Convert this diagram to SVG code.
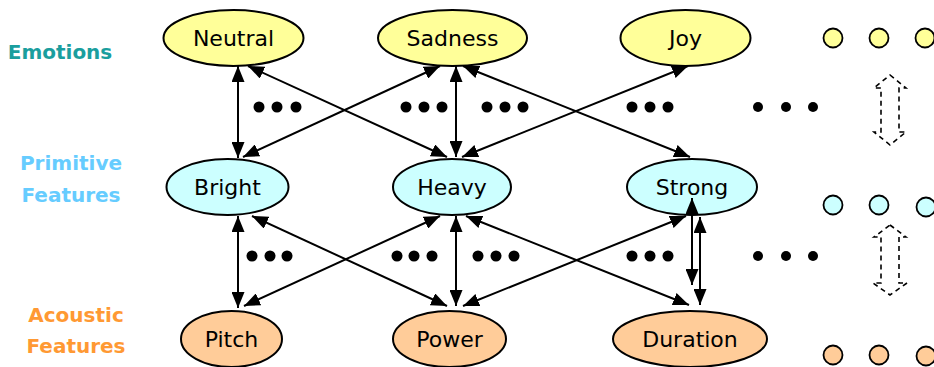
<svg xmlns="http://www.w3.org/2000/svg" width="934" height="367" viewBox="0 0 934 367">
<style>
.node ellipse{stroke:#000;stroke-width:2}
.emo ellipse,.emo circle{fill:#ffff99}
.prim ellipse,.prim circle{fill:#ccffff}
.ac ellipse,.ac circle{fill:#ffcc99}
circle{stroke:#000;stroke-width:1.8}
.lbl{font-family:"DejaVu Sans","Liberation Sans",sans-serif;font-size:22px;fill:#000;text-anchor:middle}
.side{font-family:"DejaVu Sans","Liberation Sans",sans-serif;font-size:20px;font-weight:bold;text-anchor:middle}
#connectors line{stroke:#000;stroke-width:2;marker-start:url(#ah);marker-end:url(#ah)}
.dots circle{fill:#000;stroke:none}
.blk{fill:none;stroke:#000;stroke-width:1.6;stroke-dasharray:5,4}
</style>
<defs>
<marker id="ah" viewBox="0 0 16 13" refX="16" refY="6.5" markerWidth="16" markerHeight="13" markerUnits="userSpaceOnUse" orient="auto-start-reverse">
<path d="M0,0 L16,6.5 L0,13 Z" fill="#000"/>
</marker>
</defs>
<text class="side" x="60" y="59" style="fill:#1a9e9e">Emotions</text>
<text class="side" x="71" y="170" style="fill:#66ccff">Primitive</text>
<text class="side" x="71" y="202" style="fill:#66ccff">Features</text>
<text class="side" x="76" y="322" style="fill:#ff9933">Acoustic</text>
<text class="side" x="76" y="353" style="fill:#ff9933">Features</text>

<g id="neutral" class="node emo"><ellipse cx="233.5" cy="38" rx="70" ry="28"/><text class="lbl" x="233.5" y="46">Neutral</text></g>
<g id="sadness" class="node emo"><ellipse cx="452.5" cy="38" rx="74.5" ry="28"/><text class="lbl" x="452.5" y="46">Sadness</text></g>
<g id="joy" class="node emo"><ellipse cx="685.5" cy="38" rx="65" ry="28"/><text class="lbl" x="685.5" y="46">Joy</text></g>
<g id="emo-more" class="emo"><circle cx="833" cy="38" r="9.5"/><circle cx="879" cy="38" r="9.5"/><circle cx="925" cy="38" r="9.5"/></g>

<g id="bright" class="node prim"><ellipse cx="227.5" cy="187" rx="61" ry="28"/><text class="lbl" x="227.5" y="195">Bright</text></g>
<g id="heavy" class="node prim"><ellipse cx="452" cy="187" rx="59" ry="28"/><text class="lbl" x="452" y="195">Heavy</text></g>
<g id="strong" class="node prim"><ellipse cx="692" cy="187" rx="65" ry="28"/><text class="lbl" x="692" y="195">Strong</text></g>
<g id="prim-more" class="prim"><circle cx="833" cy="205" r="9.5"/><circle cx="879" cy="205" r="9.5"/><circle cx="926" cy="207" r="9.5"/></g>

<g id="pitch" class="node ac"><ellipse cx="231.5" cy="339" rx="50.5" ry="28"/><text class="lbl" x="231.5" y="347">Pitch</text></g>
<g id="power" class="node ac"><ellipse cx="449.5" cy="339" rx="56.5" ry="28"/><text class="lbl" x="449.5" y="347">Power</text></g>
<g id="duration" class="node ac"><ellipse cx="690" cy="339" rx="77" ry="28"/><text class="lbl" x="690" y="347">Duration</text></g>
<g id="ac-more" class="ac"><circle cx="833" cy="355" r="9.5"/><circle cx="879" cy="355" r="9.5"/><circle cx="926" cy="356" r="9.5"/></g>

<g id="connectors">
<line x1="238" y1="66" x2="238" y2="158"/>
<line x1="248" y1="66" x2="447" y2="157"/>
<line x1="440" y1="66" x2="243" y2="157"/>
<line x1="456" y1="66" x2="456" y2="157"/>
<line x1="463" y1="66" x2="690" y2="157"/>
<line x1="688" y1="66" x2="462" y2="157"/>
<line x1="238" y1="216" x2="238" y2="308"/>
<line x1="252" y1="216" x2="447" y2="306"/>
<line x1="440" y1="216" x2="244" y2="306"/>
<line x1="456" y1="216" x2="456" y2="306"/>
<line x1="466" y1="216" x2="689" y2="305"/>
<line x1="686" y1="216" x2="463" y2="306"/>
<line x1="692" y1="198" x2="692" y2="285"/>
<line x1="700" y1="217" x2="700" y2="305"/>
</g>

<g class="dots">
<circle cx="259" cy="107" r="5.5"/><circle cx="277" cy="107" r="5.5"/><circle cx="296" cy="107" r="5.5"/>
<circle cx="406" cy="107" r="5.5"/><circle cx="424" cy="107" r="5.5"/><circle cx="442" cy="107" r="5.5"/>
<circle cx="487" cy="107" r="5.5"/><circle cx="505" cy="107" r="5.5"/><circle cx="523" cy="107" r="5.5"/>
<circle cx="632" cy="107" r="5.5"/><circle cx="650" cy="107" r="5.5"/><circle cx="668" cy="107" r="5.5"/>
<circle cx="758" cy="107" r="5"/><circle cx="786" cy="107" r="5"/><circle cx="813" cy="107" r="5"/>
<circle cx="252" cy="256" r="5.5"/><circle cx="270" cy="256" r="5.5"/><circle cx="287" cy="256" r="5.5"/>
<circle cx="397" cy="256" r="5.5"/><circle cx="414" cy="256" r="5.5"/><circle cx="432" cy="256" r="5.5"/>
<circle cx="478" cy="256" r="5.5"/><circle cx="496" cy="256" r="5.5"/><circle cx="514" cy="256" r="5.5"/>
<circle cx="632" cy="256" r="5.5"/><circle cx="650" cy="256" r="5.5"/><circle cx="668" cy="256" r="5.5"/>
<circle cx="758" cy="256" r="5"/><circle cx="786" cy="256" r="5"/><circle cx="813" cy="256" r="5"/>
</g>

<path class="blk" d="M890,75 L906,88 L899,88 L899,132 L906,132 L890,145 L874,132 L881,132 L881,88 L874,88 Z"/>
<path class="blk" d="M890,225 L906,237 L899,237 L899,283 L907,283 L890,295 L873,283 L881,283 L881,237 L874,237 Z"/>
</svg>
